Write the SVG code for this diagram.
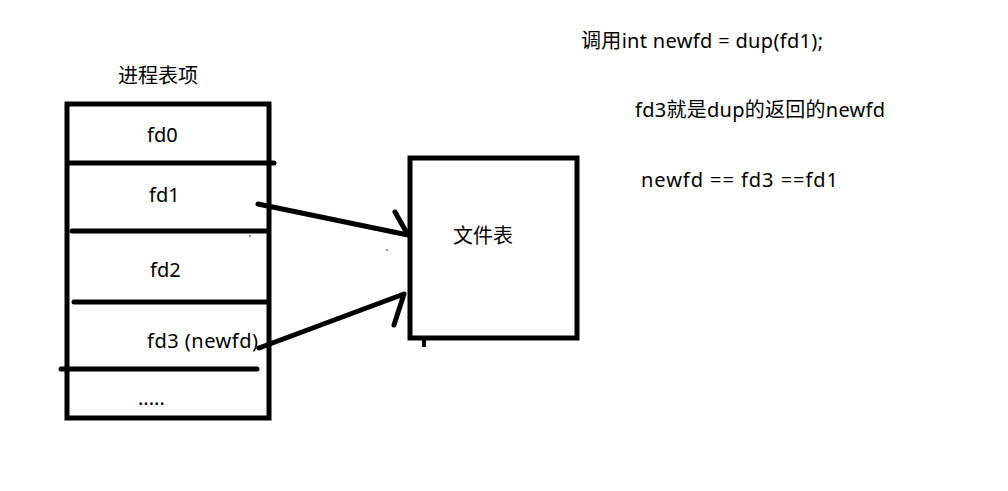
<svg xmlns="http://www.w3.org/2000/svg" width="1008" height="491" viewBox="0 0 1008 491">
<style>
.t{font-family:"Noto Sans","Noto Sans CJK SC",sans-serif;font-size:20px;fill:#000}
.box{fill:none;stroke:#000;stroke-width:5}
.ln{stroke:#000;stroke-width:5;stroke-linecap:round;fill:none}
</style>
<rect width="1008" height="491" fill="#fff"/>
<g id="process-table">
<text class="t" x="118" y="83" textLength="80" lengthAdjust="spacingAndGlyphs">进程表项</text>
<rect class="box" x="67" y="104" width="202" height="314"/>
<line class="ln" x1="69" y1="163" x2="274" y2="163"/>
<line class="ln" x1="72" y1="231" x2="268" y2="231"/>
<line class="ln" x1="74" y1="302" x2="268" y2="302"/>
<line class="ln" x1="61" y1="369" x2="257" y2="369"/>
<text class="t" x="147" y="142">fd0</text>
<text class="t" x="149" y="202">fd1</text>
<text class="t" x="150" y="277">fd2</text>
<text class="t" x="147" y="348" textLength="111" lengthAdjust="spacing">fd3  (newfd)</text>
<text class="t" x="138" y="405">.....</text>
</g>
<g id="file-table">
<rect class="box" x="410" y="158" width="167" height="180"/>
<line x1="424" y1="338" x2="424" y2="347" stroke="#000" stroke-width="4"/>
<text class="t" x="453" y="243" textLength="60" lengthAdjust="spacingAndGlyphs">文件表</text>
</g>
<g id="connectors">
<path class="ln" d="M258,204 L408,235 M395,212 L408,235"/>
<path class="ln" d="M259,348 L404,294 M394,325 L404,294"/>
</g>
<g id="notes">
<text class="t" x="581" y="48" textLength="242" lengthAdjust="spacing">调用int newfd = dup(fd1);</text>
<text class="t" x="635" y="117" textLength="250" lengthAdjust="spacing">fd3就是dup的返回的newfd</text>
<text class="t" x="641" y="187" textLength="197" lengthAdjust="spacing">newfd == fd3 ==fd1</text>
</g>
<circle cx="250" cy="236" r="0.8" fill="#000"/>
<circle cx="387" cy="250" r="0.8" fill="#000"/>
</svg>
